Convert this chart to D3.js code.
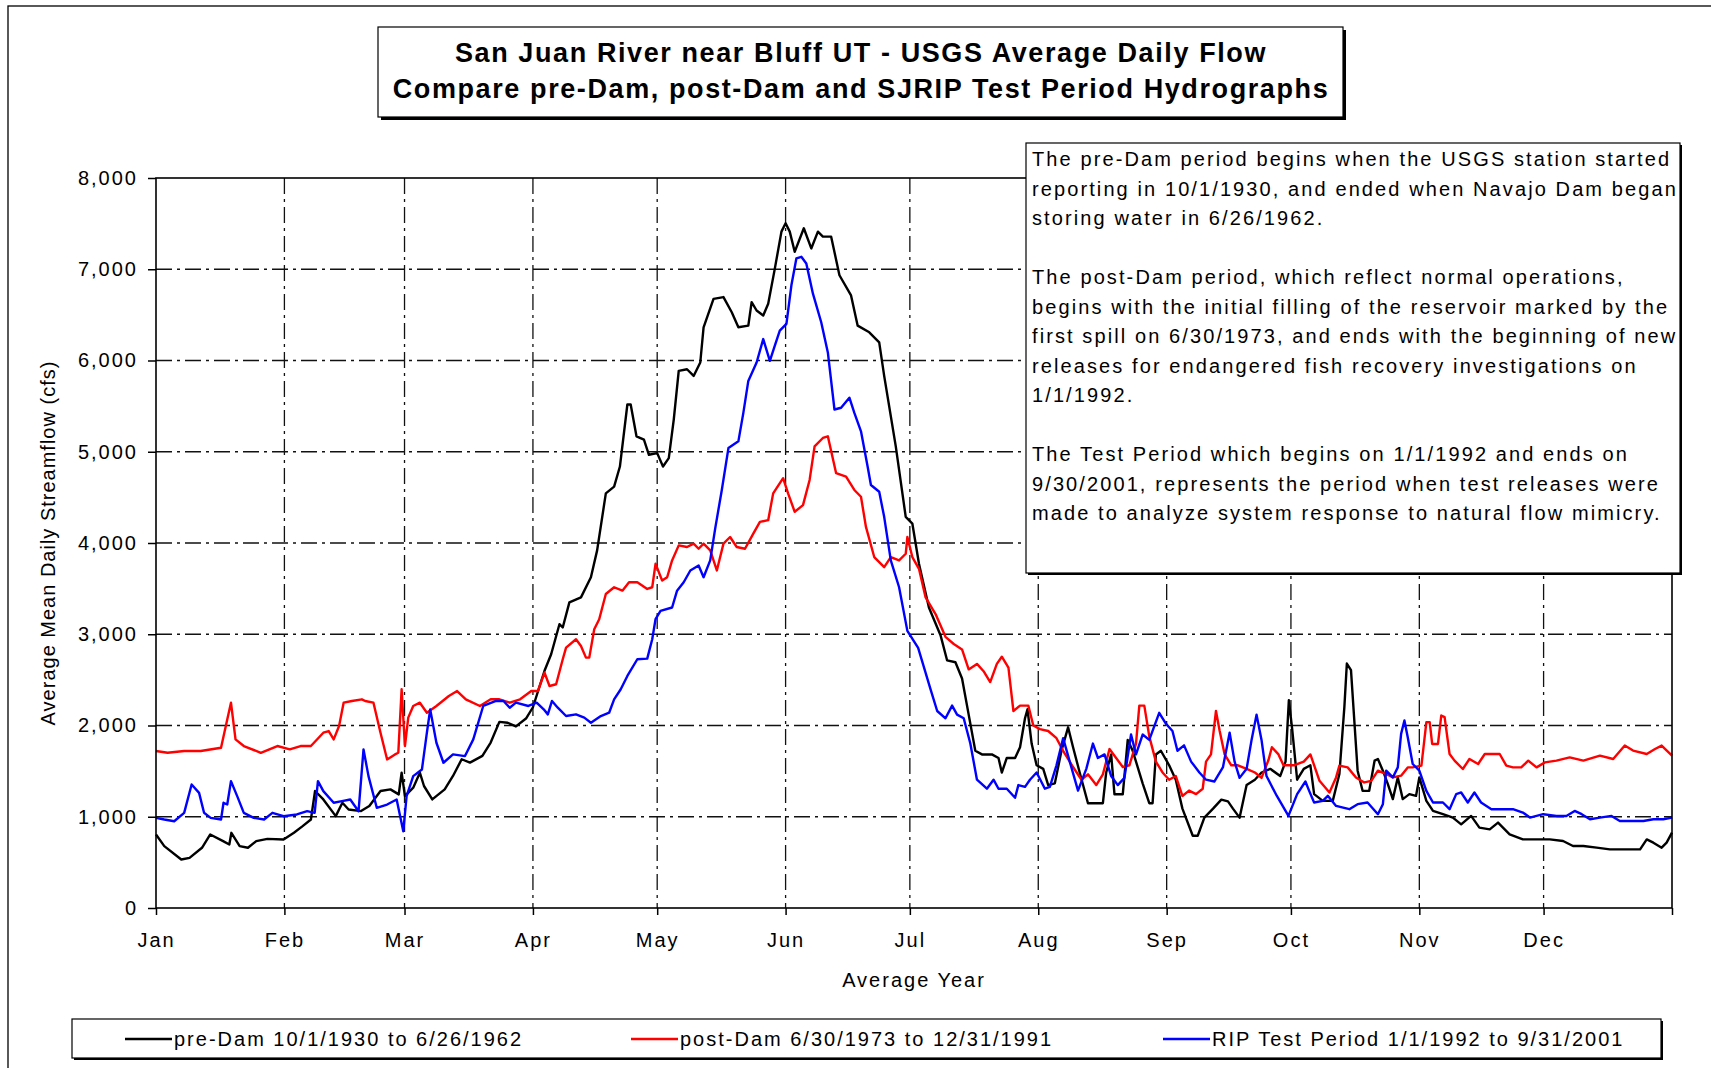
<!DOCTYPE html>
<html>
<head>
<meta charset="utf-8">
<script src="https://cdn.jsdelivr.net/npm/d3@7"></script>
<style>
body { margin: 0; background: #fff; }
svg { display: block; }
text { font-family: "Liberation Sans", Arial, sans-serif; fill: #000; }
</style>
</head>
<body>
<svg id="chart" width="1711" height="1068"></svg>
<script>
// month axis of the "average year" (366 days, Feb 29 included)
var months = ["Jan","Feb","Mar","Apr","May","Jun","Jul","Aug","Sep","Oct","Nov","Dec",""]
var monthStarts = [0,31,60,91,121,152,182,213,244,274,305,335,366]
var yTicks = [0,1000,2000,3000,4000,5000,6000,7000,8000]

// [day of year, cfs]
var preDam = [[0,806],[2,678],[6.1,531],[8.1,550],[11.1,660],[13.1,806],[16.2,733],[17.7,696],[18.2,824],[20.2,678],[22.2,660],[24.2,733],[26.9,758],[30.8,751],[33.3,824],[35.4,897],[37.4,970],[38.4,1282],[40.4,1190],[43.4,1007],[45,1154],[46.5,1080],[49.5,1062],[51.5,1117],[54.2,1282],[56.6,1300],[58.6,1245],[59.3,1483],[60.1,1227],[62.1,1319],[63.7,1483],[64.7,1337],[66.7,1190],[69.7,1300],[71.7,1447],[73.8,1630],[75.8,1593],[78.8,1667],[80.8,1813],[82.9,2040],[84.9,2030],[86.9,1990],[89.4,2080],[91,2200],[92.4,2400],[93.8,2600],[95.4,2781],[97.4,3110],[98.2,3074],[99.8,3349],[102.6,3404],[105,3625],[106.5,3919],[108.6,4544],[110.6,4618],[112,4838],[113.8,5518],[114.6,5518],[116,5169],[117.8,5132],[119,4967],[121,4985],[122.4,4838],[123.8,4930],[125,5353],[126.2,5886],[128.2,5904],[129.8,5831],[131.4,5978],[132.2,6364],[134.6,6676],[137,6695],[139,6529],[140.6,6364],[143,6382],[143.8,6640],[145,6548],[146.6,6493],[147.8,6621],[149.4,7007],[151,7412],[152,7504],[153,7412],[154.2,7191],[156.4,7449],[158.2,7228],[159.8,7412],[161,7357],[163,7357],[165,6934],[167.8,6713],[169.4,6382],[172.2,6309],[174.6,6199],[175.8,5831],[178.6,5059],[181,4287],[182.6,4213],[184.2,3772],[186.6,3294],[189.4,2990],[191,2713],[193,2693],[194.6,2515],[196.2,2119],[197.8,1723],[199.4,1683],[201.8,1683],[203.4,1644],[204.2,1485],[205.4,1644],[207.4,1644],[208.6,1762],[209.8,2079],[210.4,2178],[211.4,1802],[212.6,1564],[214.2,1525],[215.4,1347],[217,1366],[218.6,1723],[220.2,1980],[221.4,1762],[223,1485],[225,1148],[227,1148],[228.6,1148],[229.4,1485],[230.6,1683],[231.4,1246],[233.4,1246],[234.6,1842],[235.8,1723],[238.2,1366],[239.8,1148],[240.6,1148],[241.4,1683],[242.6,1723],[244.6,1564],[246.2,1406],[247.8,1089],[250.3,792],[251.5,792],[253.1,990],[255.2,1089],[257.2,1188],[258.8,1168],[260,1089],[261.6,990],[263.3,1347],[265.3,1406],[266.9,1485],[269,1525],[271.4,1446],[272.7,1604],[273.5,2277],[274.3,1960],[275.5,1406],[277.1,1525],[278.7,1564],[279.6,1248],[281.7,1174],[284.1,1174],[285.7,1468],[286.9,2202],[287.5,2679],[288.5,2606],[289.3,2055],[290.1,1505],[291.3,1284],[292.9,1284],[294.2,1615],[295,1633],[296.2,1505],[297.4,1358],[298.6,1193],[299.8,1431],[301,1193],[302.6,1248],[304.2,1229],[305,1431],[306.7,1174],[308.3,1064],[310.7,1028],[313.1,991],[315.1,917],[317.5,1009],[319.5,881],[322,862],[324,936],[326.8,807],[330,752],[333.3,752],[336.5,752],[339.7,734],[342.1,679],[344.6,679],[347.8,661],[351,642],[354.2,642],[358.3,642],[359.9,752],[361.5,716],[363.5,661],[364.7,716],[366,826]]

var postDam = [[0,1720],[2.8,1701],[6.8,1720],[10.8,1720],[15.7,1756],[17.2,2067],[18.1,2250],[19.2,1848],[21.2,1775],[25.3,1701],[29.3,1775],[32.3,1738],[34.9,1775],[37.4,1775],[40.4,1921],[41.7,1939],[42.9,1848],[44.2,1994],[45.3,2250],[47.3,2269],[49.7,2287],[50.5,2269],[52.5,2250],[54.2,1921],[55.8,1628],[57.7,1683],[58.5,1701],[59.3,2397],[60.1,1775],[60.9,2086],[62.1,2214],[63.7,2250],[65.4,2140],[67.7,2214],[70.7,2323],[72.7,2378],[74.8,2287],[78.2,2214],[80.8,2287],[82.9,2287],[85.4,2250],[87.9,2287],[90.6,2378],[92.2,2378],[93.8,2580],[95,2433],[96.6,2452],[98.2,2726],[99,2854],[101.4,2945],[102.6,2872],[103.8,2744],[104.6,2744],[105.8,3055],[107,3165],[108.6,3441],[110.6,3515],[112.6,3478],[114.2,3570],[116.2,3570],[118.6,3496],[119.8,3515],[120.6,3772],[122.2,3588],[123.4,3625],[124.6,3809],[126.2,3974],[128.2,3956],[129.8,3993],[131,3937],[132.2,3993],[133.8,3919],[135.4,3699],[137,3993],[138.6,4066],[140.2,3956],[142.2,3937],[144.2,4103],[145.8,4232],[147.8,4250],[149,4544],[151.4,4710],[152.6,4544],[154.2,4342],[156.2,4415],[157.8,4691],[159,5059],[161,5151],[162.2,5169],[164.2,4765],[166.6,4728],[168.6,4581],[170.2,4507],[171.4,4176],[173.4,3846],[175.8,3735],[177.4,3846],[179.4,3809],[181,3882],[181.4,4066],[182.6,3846],[184.2,3717],[185.8,3404],[188.2,3221],[190.6,2972],[192.6,2893],[194.6,2833],[196.2,2615],[198.2,2675],[199.8,2595],[201.4,2476],[203,2675],[204.2,2754],[205.8,2635],[207,2159],[208.6,2218],[210.6,2218],[211.8,2000],[213.4,1960],[215.4,1940],[217.4,1861],[219,1723],[221.4,1545],[223.4,1406],[225,1465],[227,1347],[228.6,1465],[230.2,1742],[231.8,1644],[233.4,1545],[235,1564],[236.6,1802],[237.4,2218],[238.6,2218],[239.8,1881],[241.4,1604],[243,1485],[244.6,1406],[246.2,1446],[247.8,1228],[249.4,1287],[251.1,1248],[252.7,1307],[253.5,1604],[254.7,1683],[255.9,2159],[256.8,1940],[258,1683],[259.6,1564],[261.2,1564],[263.3,1525],[265.3,1485],[266.9,1426],[268.6,1624],[269.4,1762],[271,1683],[272.2,1564],[274.7,1564],[277.1,1604],[278.7,1683],[280.9,1394],[283.3,1266],[284.9,1431],[285.7,1560],[287.7,1541],[289.7,1431],[291.7,1376],[293.4,1394],[295,1505],[297,1468],[298.6,1431],[300.6,1450],[302.2,1541],[303.4,1541],[305.5,1560],[306.7,2037],[307.5,2037],[308.1,1798],[309.5,1798],[310.3,2110],[311.1,2092],[312.3,1688],[313.5,1615],[315.5,1523],[317.1,1633],[319.2,1578],[320.8,1688],[322.8,1688],[324.4,1688],[326,1560],[327.6,1541],[329.6,1541],[331.3,1615],[333.3,1541],[335.3,1596],[338.1,1615],[341.3,1651],[344.6,1615],[348.6,1670],[351.8,1633],[354.6,1780],[356.6,1725],[359.9,1688],[361.9,1743],[363.5,1780],[366,1670]]

var ripTest = [[0,988],[2,970],[4.4,951],[6.8,1043],[8.6,1354],[10.4,1262],[11.6,1043],[13.2,988],[15.7,970],[16.3,1153],[17.2,1134],[18.1,1390],[19.6,1226],[21.2,1043],[23.6,988],[26.1,970],[28.1,1043],[30.8,1006],[34,1025],[36.5,1061],[38.3,1043],[39.1,1390],[40.4,1281],[42.9,1153],[44.9,1171],[46.9,1189],[48.9,1061],[50.1,1738],[51.3,1445],[53.3,1098],[55.8,1134],[58.1,1189],[59.7,841],[60.5,1226],[62.1,1445],[64.2,1518],[65.4,1921],[66.2,2177],[67.7,1811],[69.4,1592],[71.7,1683],[74.6,1665],[76.6,1848],[79,2214],[82.1,2269],[83.9,2269],[85.4,2195],[86.9,2250],[89.9,2214],[91.9,2250],[93.6,2177],[94.6,2122],[95.6,2269],[97,2195],[99,2104],[101.4,2122],[103.4,2086],[105,2031],[107.4,2104],[109.4,2140],[110.6,2287],[112.2,2397],[113.8,2543],[116.2,2726],[118.6,2733],[119.8,2945],[120.6,3165],[121.8,3256],[124.6,3293],[125.8,3478],[127.4,3570],[129,3699],[131,3754],[132.2,3625],[133.8,3809],[135,4158],[136.6,4581],[138.2,5040],[140.6,5114],[141.8,5426],[143,5776],[145,5978],[146.6,6235],[148.2,5996],[149.4,6162],[150.6,6327],[152.2,6401],[153.4,6824],[154.6,7118],[155.8,7136],[157,7063],[158.6,6732],[160.6,6419],[162.2,6088],[163.8,5463],[165.4,5482],[167.4,5592],[168.6,5426],[170.2,5224],[171.8,4838],[172.6,4636],[174.6,4562],[175.8,4287],[177.4,3809],[179.4,3515],[181.4,3037],[184,2850],[187,2396],[188.6,2159],[190.6,2079],[192.2,2218],[193.4,2119],[195,2079],[196.6,1802],[198.2,1406],[200.6,1307],[202.2,1406],[203.4,1307],[205.4,1307],[207.4,1208],[208.2,1347],[209.8,1327],[211,1406],[212.6,1485],[214.6,1307],[215.8,1327],[217.4,1564],[219,1861],[220.6,1604],[222.6,1287],[224.6,1525],[226.2,1802],[227.4,1644],[229,1683],[230.6,1446],[232.2,1347],[233.8,1426],[235.4,1901],[236.6,1683],[238.2,1901],[239.8,1842],[242.2,2139],[243.8,2020],[245.4,1940],[246.6,1723],[248.2,1782],[249.9,1604],[251.9,1485],[253.5,1406],[255.5,1386],[257.6,1545],[259.2,1921],[260.4,1604],[261.6,1426],[263.3,1525],[264.5,1842],[265.7,2119],[266.9,1842],[268.1,1446],[270.6,1228],[273.4,1010],[275.5,1248],[277.5,1386],[278.4,1284],[279.6,1156],[281.7,1174],[282.9,1229],[284.9,1119],[288.1,1083],[290.1,1138],[292.5,1156],[295,1028],[296.2,1138],[297,1505],[298.6,1431],[299.8,1541],[300.6,1908],[301.4,2055],[302.2,1872],[303.4,1578],[305,1505],[306.7,1284],[308.3,1156],[310.7,1156],[312.3,1083],[313.9,1248],[315.1,1266],[316.7,1156],[318.3,1266],[319.9,1156],[322.4,1083],[325.2,1083],[327.6,1083],[330,1046],[331.7,991],[334.9,1028],[338.1,1009],[340.5,1009],[342.5,1064],[344.2,1028],[346.2,973],[348.6,991],[351.4,1009],[353.4,954],[356.6,954],[359.1,954],[361.5,973],[363.9,973],[366,991]]

var seriesNames = ["pre-Dam 10/1/1930 to 6/26/1962", "post-Dam 6/30/1973 to 12/31/1991", "RIP Test Period 1/1/1992 to 9/31/2001"]
var seriesData = [preDam, postDam, ripTest]
var seriesColors = ["#000000", "#ff0000", "#0000ff"]

var titleLines = ["San Juan River near Bluff UT - USGS Average Daily Flow",
                  "Compare pre-Dam, post-Dam and SJRIP Test Period Hydrographs"]
var noteLines = ["The pre-Dam period begins when the USGS station started",
                 "reporting in 10/1/1930, and ended when Navajo Dam began",
                 "storing water in 6/26/1962.",
                 "",
                 "The post-Dam period, which reflect normal operations,",
                 "begins with the initial filling of the reservoir marked by the",
                 "first spill on 6/30/1973, and ends with the beginning of new",
                 "releases for endangered fish recovery investigations on",
                 "1/1/1992.",
                 "",
                 "The Test Period which begins on 1/1/1992 and ends on",
                 "9/30/2001, represents the period when test releases were",
                 "made to analyze system response to natural flow mimicry."]

var xleft = 156, xright = 1672, ytop = 178, ybottom = 908
var gridDash = "16,5,3,5"

var svg = d3.select("#chart")

var xScale = d3.scaleLinear().domain([0, 366]).range([xleft, xright])
var yScale = d3.scaleLinear().domain([0, 8000]).range([ybottom, ytop])

function shadowBox(g, x, y, w, h, off) {
    g.append("rect").attr("x", x + off).attr("y", y + off).attr("width", w).attr("height", h)
        .attr("fill", "#000")
    g.append("rect").attr("x", x).attr("y", y).attr("width", w).attr("height", h)
        .attr("fill", "#fff").attr("stroke", "#000").attr("stroke-width", 1.2)
}

function drawFrame() {
    svg.append("rect").attr("x", 8).attr("y", 6).attr("width", 1720).attr("height", 1080)
        .attr("fill", "#fff").attr("stroke", "#000").attr("stroke-width", 1.3)
}

function drawGrid() {
    var grid = svg.append("g").attr("id", "grid")
    grid.selectAll("line.h")
        .data(yTicks.slice(1, -1))
        .enter().append("line")
        .attr("class", "h")
        .attr("x1", xleft).attr("x2", xright)
        .attr("y1", function(d) { return yScale(d) })
        .attr("y2", function(d) { return yScale(d) })
    grid.selectAll("line.v")
        .data(monthStarts.slice(1, -1))
        .enter().append("line")
        .attr("class", "v")
        .attr("y1", ytop).attr("y2", ybottom)
        .attr("x1", function(d) { return xScale(d) })
        .attr("x2", function(d) { return xScale(d) })
    grid.selectAll("line")
        .attr("stroke", "#111")
        .attr("stroke-width", 1.3)
        .attr("stroke-dasharray", gridDash)
}

function drawAxes() {
    var xAxis = d3.axisBottom(xScale)
        .tickValues(monthStarts)
        .tickSize(7)
        .tickPadding(18)
        .tickFormat(function(d, i) { return months[i] })
    var yAxis = d3.axisLeft(yScale)
        .tickValues(yTicks)
        .tickSize(8)
        .tickPadding(10)
        .tickFormat(d3.format(","))

    var gx = svg.append("g").attr("transform", "translate(0," + ybottom + ")").call(xAxis)
    var gy = svg.append("g").attr("transform", "translate(" + xleft + ",0)").call(yAxis)
    ;[gx, gy].forEach(function(g) {
        g.select(".domain").remove()
        g.selectAll(".tick line").attr("stroke", "#000").attr("stroke-width", 1.5)
        g.selectAll(".tick text")
            .attr("font-family", "Liberation Sans, Arial, sans-serif")
            .attr("font-size", "20px")
            .attr("letter-spacing", "2px")
            .attr("fill", "#000")
    })

    svg.append("rect")
        .attr("x", xleft).attr("y", ytop)
        .attr("width", xright - xleft).attr("height", ybottom - ytop)
        .attr("fill", "none").attr("stroke", "#000").attr("stroke-width", 1.6)

    svg.append("text")
        .attr("x", (xleft + xright) / 2).attr("y", 987)
        .attr("text-anchor", "middle")
        .attr("font-size", "20px").attr("letter-spacing", "2px")
        .text("Average Year")

    svg.append("text")
        .attr("transform", "translate(55," + ((ytop + ybottom) / 2) + ") rotate(-90)")
        .attr("text-anchor", "middle")
        .attr("font-size", "20px").attr("letter-spacing", "1px")
        .text("Average Mean Daily Streamflow (cfs)")
}

function drawSeries() {
    var line = d3.line()
        .x(function(d) { return xScale(d[0]) })
        .y(function(d) { return yScale(d[1]) })
    svg.append("g").attr("id", "series")
        .selectAll("path")
        .data(seriesData)
        .enter().append("path")
        .attr("d", line)
        .attr("fill", "none")
        .attr("stroke", function(d, i) { return seriesColors[i] })
        .attr("stroke-width", 2.4)
        .attr("stroke-linejoin", "round")
}

function drawTitle() {
    var g = svg.append("g").attr("id", "title")
    shadowBox(g, 378, 27, 965, 90, 3)
    g.selectAll("text")
        .data(titleLines)
        .enter().append("text")
        .attr("x", 861)
        .attr("y", function(d, i) { return 62 + i * 36 })
        .attr("text-anchor", "middle")
        .attr("font-weight", "bold")
        .attr("font-size", "27px")
        .attr("letter-spacing", "1.6px")
        .text(function(d) { return d })
}

function drawNote() {
    var g = svg.append("g").attr("id", "note")
    shadowBox(g, 1026, 143, 654, 430, 2)
    g.selectAll("text")
        .data(noteLines)
        .enter().append("text")
        .attr("x", 1032)
        .attr("y", function(d, i) { return 166 + i * 29.5 })
        .attr("font-size", "20px")
        .attr("letter-spacing", "2.1px")
        .text(function(d) { return d })
}

function drawLegend() {
    var g = svg.append("g").attr("id", "legend")
    shadowBox(g, 72, 1019, 1589, 39, 2)
    var itemX = [125, 631, 1163]
    var item = g.selectAll("g.item")
        .data(seriesNames)
        .enter().append("g")
        .attr("class", "item")
        .attr("transform", function(d, i) { return "translate(" + itemX[i] + ",1039)" })
    item.append("line")
        .attr("x1", 0).attr("x2", 47).attr("y1", 0).attr("y2", 0)
        .attr("stroke", function(d, i) { return seriesColors[i] })
        .attr("stroke-width", 2.5)
    item.append("text")
        .attr("x", 49).attr("y", 7)
        .attr("font-size", "20px")
        .attr("letter-spacing", "2px")
        .text(function(d) { return d })
}

drawFrame()
drawGrid()
drawSeries()
drawAxes()
drawNote()
drawTitle()
drawLegend()
</script>
</body>
</html>
